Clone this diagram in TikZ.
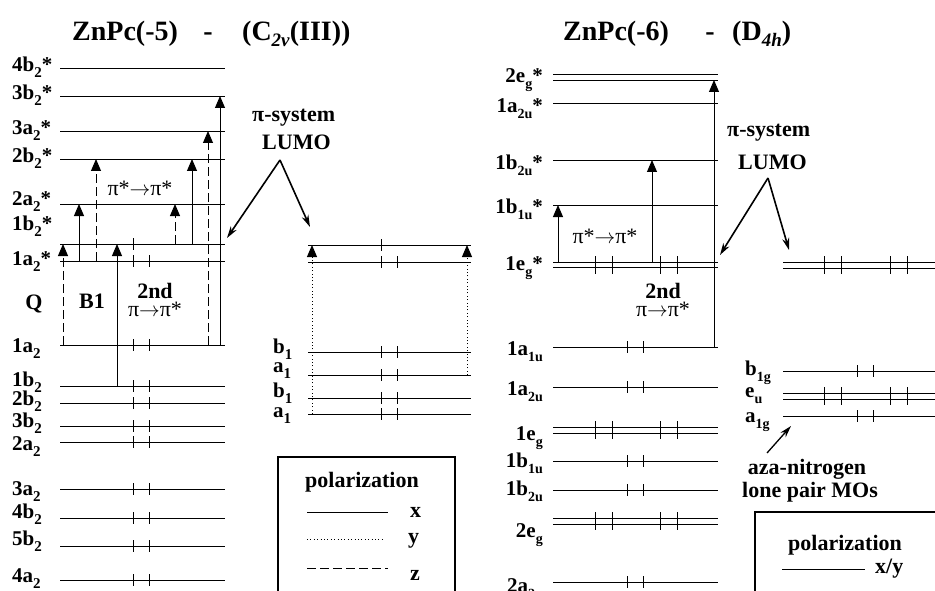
\documentclass[tikz,border=0pt]{standalone}
\usepackage{fontspec}
\setmainfont{Liberation Serif}
\usetikzlibrary{arrows.meta,positioning}
\newcommand{\lo}[2][15]{\raisebox{-6pt}{\fontsize{#1}{#1}\selectfont #2}}
\newcommand{\ra}{$\rightarrow$}
\tikzset{
  level/.style={line width=0.9pt},
  elec/.style={line width=0.9pt},
  trans/.style={line width=1pt, -{Triangle[length=12pt,width=10pt]}},
  poly/.style={dash pattern=on 1pt off 2.4pt},
  polz/.style={dash pattern=on 9pt off 4pt},
  lbl/.style={font=\bfseries\fontsize{21}{21}\selectfont, inner sep=0pt},
  ttl/.style={font=\bfseries\fontsize{28}{28}\selectfont, inner sep=0pt},
  note/.style={font=\bfseries\fontsize{22}{22}\selectfont, inner sep=0pt},
  trn/.style={font=\fontsize{22}{22}\selectfont, inner sep=0pt},
  pointer/.style={line width=1.6pt, -{Stealth[length=12pt,width=7pt]}},
}
\begin{document}
\begin{tikzpicture}[x=1pt,y=-1pt]
  \clip (0,0) rectangle (935,591);
  % titles
  \node[ttl, anchor=base west] (ttlL) at (72,41) {ZnPc(-5)};
  \node[ttl, anchor=base] (dashL) at (208,41) {-};
  \node[ttl, anchor=base west] (symL) at (242,41) {(C\lo[19]{\textit{2v}}(III))};
  \node[ttl, anchor=base west] (ttlR) at (563,41) {ZnPc(-6)};
  \node[ttl, anchor=base] (dashR) at (710,41) {-};
  \node[ttl, anchor=base west] (symR) at (732,41) {(D\lo[19]{\textit{4h}})};

  % electron and transition columns
  \coordinate (eL1) at (133,0); \coordinate (eL2) at (149,0);
  \coordinate (eM1) at (381,0); \coordinate (eM2) at (397,0);
  \coordinate (eR1) at (627,0); \coordinate (eR2) at (643,0);
  \coordinate (eN1) at (857,0); \coordinate (eN2) at (873,0);
  \coordinate (tQ) at (63,0);  \coordinate (tA) at (79,0);
  \coordinate (tB) at (96,0);  \coordinate (tS) at (117,0);
  \coordinate (tC) at (175,0); \coordinate (tD) at (192,0);
  \coordinate (tE) at (208,0); \coordinate (tF) at (220,0);
  \coordinate (tM1) at (312,0); \coordinate (tM2) at (467,0);
  \coordinate (tR1) at (558,0); \coordinate (tR2) at (652,0);
  \coordinate (tR3) at (714,0);

  % ZnPc(-5) levels
  \foreach \nm/\y in {L4b2s/68, L3b2s/96, L3a2s/131, L2b2s/159, L2a2s/204,
      L1b2s/244, L1a2s/261, L1a2/345, L1b2/386, L2b2/403, L3b2/426,
      L2a2/442, L3a2/489, L4b2/518, L5b2/546, L4a2/580}
    \draw[level] (60,\y) coordinate (\nm) -- (225,\y);
  \foreach \txt/\y in {4b\lo{2}*/72, 3b\lo{2}*/100, 3a\lo{2}*/135, 2b\lo{2}*/163,
      2a\lo{2}*/205, 1b\lo{2}*/230, 1a\lo{2}*/265, 1a\lo{2}/352, 1b\lo{2}/386,
      2b\lo{2}/405, 3b\lo{2}/427, 2a\lo{2}/450, 3a\lo{2}/495, 4b\lo{2}/518,
      5b\lo{2}/545, 4a\lo{2}/582}
    \node[lbl, anchor=base west] at (12,\y) {\txt};
  \foreach \nm in {L1a2s,L1a2,L1b2,L2b2,L3b2,L2a2,L3a2,L4b2,L5b2,L4a2}
    \foreach \c in {eL1,eL2}
      \draw[elec] (\c |- \nm) ++(0,-6) -- ++(0,12);
  \draw[elec] (eL1 |- L1b2s) ++(0,-6) -- ++(0,12);

  % ZnPc(-5) transitions
  \draw[trans, polz] (tQ |- L1a2) -- (tQ |- L1b2s);
  \draw[trans] (tA |- L1a2s) -- (tA |- L2a2s);
  \draw[trans, polz] (tB |- L1a2s) -- (tB |- L2b2s);
  \draw[trans] (tS |- L1b2) -- (tS |- L1b2s);
  \draw[trans, polz] (tC |- L1b2s) -- (tC |- L2a2s);
  \draw[trans] (tD |- L1b2s) -- (tD |- L2b2s);
  \draw[trans, polz] (tE |- L1a2) -- (tE |- L3a2s);
  \draw[trans] (tF |- L1a2) -- (tF |- L3b2s);
  \node[trn, anchor=base] (ppL) at (140,196) {π*\ra π*};
  \node[note, anchor=base] (qL) at (34,309) {Q};
  \node[note, anchor=base] (b1L) at (92,308) {B1};
  \node[note, align=center] (ndL) at (155,300)
    {2nd\\[-4pt]{\mdseries π\ra π*}};

  % aza-nitrogen levels of ZnPc(-5)
  \foreach \nm/\y in {MLu/245, MHo/262, Mb1/352, Ma1/375, Mb1b/398, Ma1b/414}
    \draw[level] (308,\y) coordinate (\nm) -- (471,\y);
  \foreach \txt/\y in {b\lo{1}/353, a\lo{1}/372, b\lo{1}/397, a\lo{1}/417}
    \node[lbl, anchor=base west] at (273,\y) {\txt};
  \foreach \nm in {MHo,Mb1,Ma1,Mb1b,Ma1b}
    \foreach \c in {eM1,eM2}
      \draw[elec] (\c |- \nm) ++(0,-6) -- ++(0,12);
  \draw[elec] (eM1 |- MLu) ++(0,-6) -- ++(0,12);
  \draw[trans, poly] (tM1 |- Ma1b) -- (tM1 |- MLu);
  \draw[trans, poly] (tM2 |- Ma1) -- (tM2 |- MLu);

  % pi-system LUMO pointers, left
  \node[note, anchor=base west] (psL) at (252,122) {π-system};
  \node[note, anchor=base west] (lumoL) at (262,150) {LUMO};
  \coordinate (apexL) at (280,160);
  \coordinate (tipL1) at (227,238);
  \coordinate (tipL2) at (310,227);
  \draw[pointer] (apexL) -- (tipL1);
  \draw[pointer] (apexL) -- (tipL2);

  % legend, left
  \draw[line width=1.2pt] (278,591) -- (278,457) -- (455,457) -- (455,591);
  \node[note, anchor=base] (polL) at (362,487) {polarization};
  \draw (307,512) -- (388,512);
  \draw[poly] (307,539) -- (385,539);
  \draw[polz] (307,568) -- (388,568);
  \node[note, anchor=base west] (xL) at (410,517) {x};
  \node[note, anchor=base west] (yL) at (408,543) {y};
  \node[note, anchor=base west] (zL) at (410,580) {z};

  % ZnPc(-6) levels
  \foreach \nm/\y in {R2egsA/74, R2egsB/80, R1a2us/103, R1b2us/160, R1b1us/205,
      R1egsA/262, R1egsB/267, R1a1u/347, R1a2u/387, R1egA/427, R1egB/433,
      R1b1u/461, R1b2u/490, R2egA/518, R2egB/524, R2a2u/582}
    \draw[level] (553,\y) coordinate (\nm) -- (718,\y);
  \foreach \txt/\y in {2e\lo[14]{g}*/83, 1a\lo[14]{2u}*/113, 1b\lo[14]{2u}*/170,
      1b\lo[14]{1u}*/213, 1e\lo[14]{g}*/270, 1a\lo[14]{1u}/355, 1a\lo[14]{2u}/395,
      1e\lo[14]{g}/440, 1b\lo[14]{1u}/467, 1b\lo[14]{2u}/495, 2e\lo[14]{g}/537,
      2a\lo[14]{2u}/592}
    \node[lbl, anchor=base east] at (543,\y) {\txt};
  \foreach \nm in {R1a1u,R1a2u,R1b1u,R1b2u,R2a2u}
    \foreach \c in {eR1,eR2}
      \draw[elec] (\c |- \nm) ++(0,-6) -- ++(0,12);
  \foreach \nm in {R1egsA,R1egA,R2egA}
    \foreach \x in {595,612,660,677}
      \draw[elec] (\x,0 |- \nm) ++(0,-6) -- ++(0,18);

  % ZnPc(-6) transitions
  \draw[trans] (tR1 |- R1egsA) -- (tR1 |- R1b1us);
  \draw[trans] (tR2 |- R1egsA) -- (tR2 |- R1b2us);
  \draw[trans] (tR3 |- R1a1u) -- (tR3 |- R2egsB);
  \node[trn, anchor=base] (ppR) at (605,243) {π*\ra π*};
  \node[note, align=center] (ndR) at (663,300)
    {2nd\\[-4pt]{\mdseries π\ra π*}};

  % aza-nitrogen levels of ZnPc(-6)
  \foreach \nm/\y in {NLuA/262, NLuB/268, Nb1g/371, NeuA/393, NeuB/399, Na1g/416}
    \draw[level] (783,\y) coordinate (\nm) -- (940,\y);
  \foreach \txt/\y in {b\lo[14]{1g}/375, e\lo[14]{u}/397, a\lo[14]{1g}/422}
    \node[lbl, anchor=base west] at (745,\y) {\txt};
  \foreach \nm in {Nb1g,Na1g}
    \foreach \c in {eN1,eN2}
      \draw[elec] (\c |- \nm) ++(0,-6) -- ++(0,12);
  \foreach \nm in {NLuA,NeuA}
    \foreach \x in {824,841,890,907}
      \draw[elec] (\x,0 |- \nm) ++(0,-6) -- ++(0,18);

  % pi-system LUMO pointers, right
  \node[note, anchor=base west] (psR) at (727,137) {π-system};
  \node[note, anchor=base west] (lumoR) at (738,170) {LUMO};
  \coordinate (apexR) at (768,178);
  \coordinate (tipR1) at (720,255);
  \coordinate (tipR2) at (789,250);
  \draw[pointer] (apexR) -- (tipR1);
  \draw[pointer] (apexR) -- (tipR2);

  % lone pair pointer
  \node[note, anchor=base] (azaR) at (807,474) {aza-nitrogen};
  \node[note, anchor=base] (lpR) at (810,497) {lone pair MOs};
  \coordinate (azaTail) at (767,453);
  \coordinate (azaTip) at (791,426);
  \draw[pointer, line width=1.3pt] (azaTail) -- (azaTip);

  % legend, right
  \draw[line width=1.2pt] (755,591) -- (755,512) -- (940,512);
  \node[note, anchor=base] (polR) at (845,550) {polarization};
  \draw (782,569) -- (865,569);
  \node[note, anchor=base west] (xyR) at (875,573) {x/y};
\end{tikzpicture}
\end{document}
